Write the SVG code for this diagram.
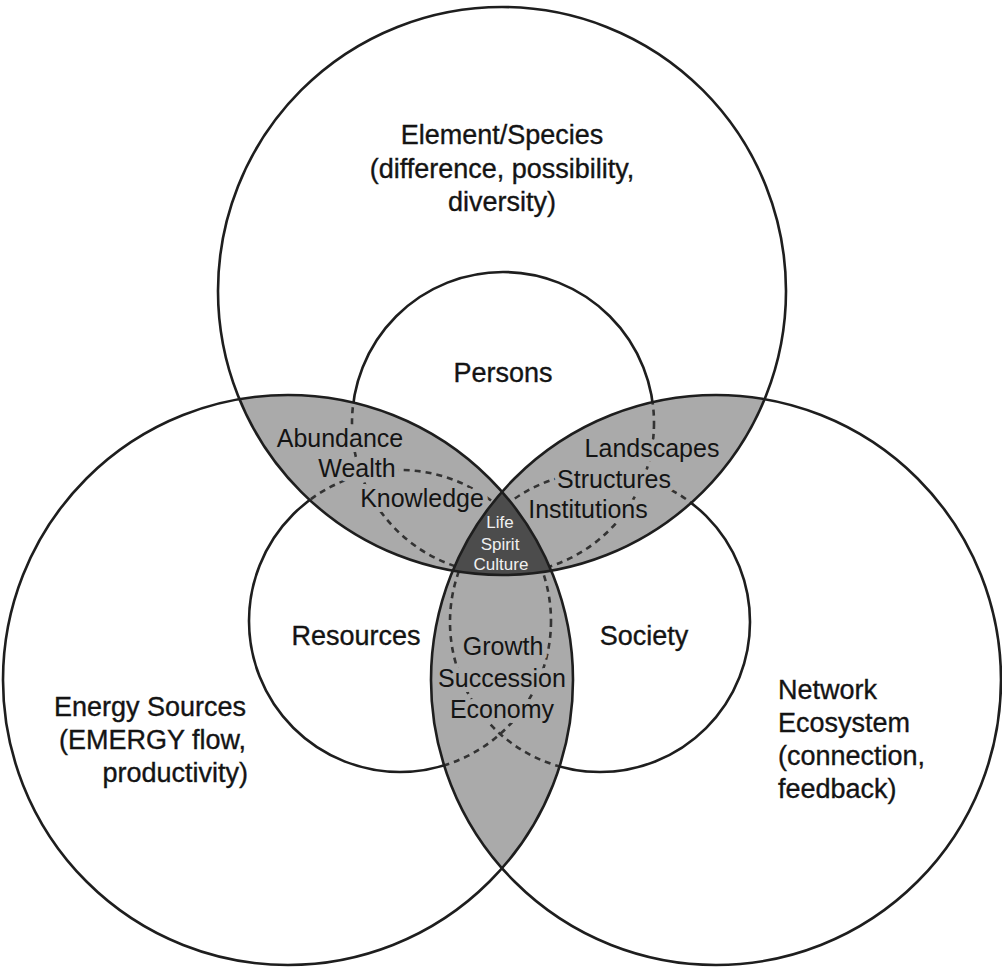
<svg xmlns="http://www.w3.org/2000/svg" xmlns:xlink="http://www.w3.org/1999/xlink" width="1002" height="968" viewBox="0 0 1002 968">
<style>
.big{fill:none;stroke:#1e1e1e;stroke-width:2.6}
.solid{fill:none;stroke:#1e1e1e;stroke-width:2.6}
.dash{fill:none;stroke:#333333;stroke-width:2.6;stroke-dasharray:6 5}
.lens{fill:#aaaaaa}
.core{fill:#4c4c4c}
.t{font-family:"Liberation Sans",Arial,Helvetica,sans-serif;fill:#141414}
.main{font-size:27px;text-anchor:middle;stroke:#141414;stroke-width:0.35}
.inner{font-size:25px;text-anchor:middle;stroke:#aaaaaa;stroke-width:10;stroke-linejoin:round;paint-order:stroke}
.core-t{font-size:17px;text-anchor:middle;fill:#f0f0f0}
.start{text-anchor:start}
.end{text-anchor:end}
</style>
<defs>
<clipPath id="cT"><circle cx="502" cy="291" r="284"/></clipPath>
<clipPath id="cL"><circle cx="288" cy="680" r="285"/></clipPath>
<clipPath id="cR"><circle cx="716" cy="680" r="285"/></clipPath>
<g id="smalls">
<circle cx="503" cy="423" r="151"/>
<circle cx="400" cy="621" r="151"/>
<circle cx="600" cy="622" r="150"/>
</g>
<mask id="mWhite" maskUnits="userSpaceOnUse" x="0" y="0" width="1002" height="968">
<rect width="1002" height="968" fill="white"/>
<g clip-path="url(#cT)"><circle cx="288" cy="680" r="285" fill="black"/><circle cx="716" cy="680" r="285" fill="black"/></g>
<g clip-path="url(#cL)"><circle cx="716" cy="680" r="285" fill="black"/></g>
</mask>
</defs>
<rect width="1002" height="968" fill="#ffffff"/>

<g id="overlaps">
<g clip-path="url(#cT)"><circle class="lens" cx="288" cy="680" r="285"/><circle class="lens" cx="716" cy="680" r="285"/></g>
<g clip-path="url(#cL)"><circle class="lens" cx="716" cy="680" r="285"/></g>
</g>

<g id="connectors">
<g clip-path="url(#cT)"><g clip-path="url(#cL)"><use xlink:href="#smalls" class="dash"/></g></g>
<g clip-path="url(#cT)"><g clip-path="url(#cR)"><use xlink:href="#smalls" class="dash"/></g></g>
<g clip-path="url(#cL)"><g clip-path="url(#cR)"><use xlink:href="#smalls" class="dash"/></g></g>
</g>

<g id="top-left-overlap" clip-path="url(#cT)"><g clip-path="url(#cL)">
<text class="t inner" x="340" y="447">Abundance</text>
<text class="t inner" x="357" y="477">Wealth</text>
<text class="t inner" x="422" y="507">Knowledge</text></g></g>
<g id="top-right-overlap" clip-path="url(#cT)"><g clip-path="url(#cR)">
<text class="t inner" x="652" y="457">Landscapes</text>
<text class="t inner" x="614" y="488">Structures</text>
<text class="t inner" x="588" y="518">Institutions</text></g></g>
<g id="bottom-overlap" clip-path="url(#cL)"><g clip-path="url(#cR)">
<text class="t inner" x="503" y="655">Growth</text>
<text class="t inner" x="502" y="687">Succession</text>
<text class="t inner" x="502" y="718">Economy</text></g></g>

<g id="core"><g clip-path="url(#cT)"><g clip-path="url(#cL)"><circle class="core" cx="716" cy="680" r="285"/></g></g>
<text class="t core-t" x="500" y="528">Life</text>
<text class="t core-t" x="500" y="550">Spirit</text>
<text class="t core-t" x="501" y="570">Culture</text></g>

<g id="small-circles"><use xlink:href="#smalls" class="solid" mask="url(#mWhite)"/></g>

<g id="element-species"><circle class="big" cx="502" cy="291" r="284"/>
<text class="t main" x="502" y="144">Element/Species</text>
<text class="t main" x="502" y="178">(difference, possibility,</text>
<text class="t main" x="502" y="211">diversity)</text></g>
<g id="energy-sources"><circle class="big" cx="288" cy="680" r="285"/>
<text class="t main end" x="246" y="716">Energy Sources</text>
<text class="t main end" x="246" y="749">(EMERGY flow,</text>
<text class="t main end" x="248" y="782">productivity)</text></g>
<g id="network-ecosystem"><circle class="big" cx="716" cy="680" r="285"/>
<text class="t main start" x="778" y="699">Network</text>
<text class="t main start" x="778" y="732">Ecosystem</text>
<text class="t main start" x="778" y="765">(connection,</text>
<text class="t main start" x="778" y="798">feedback)</text></g>

<g id="persons"><text class="t main" x="503" y="382">Persons</text></g>
<g id="resources"><text class="t main" x="356" y="645">Resources</text></g>
<g id="society"><text class="t main" x="644" y="645">Society</text></g>
</svg>
